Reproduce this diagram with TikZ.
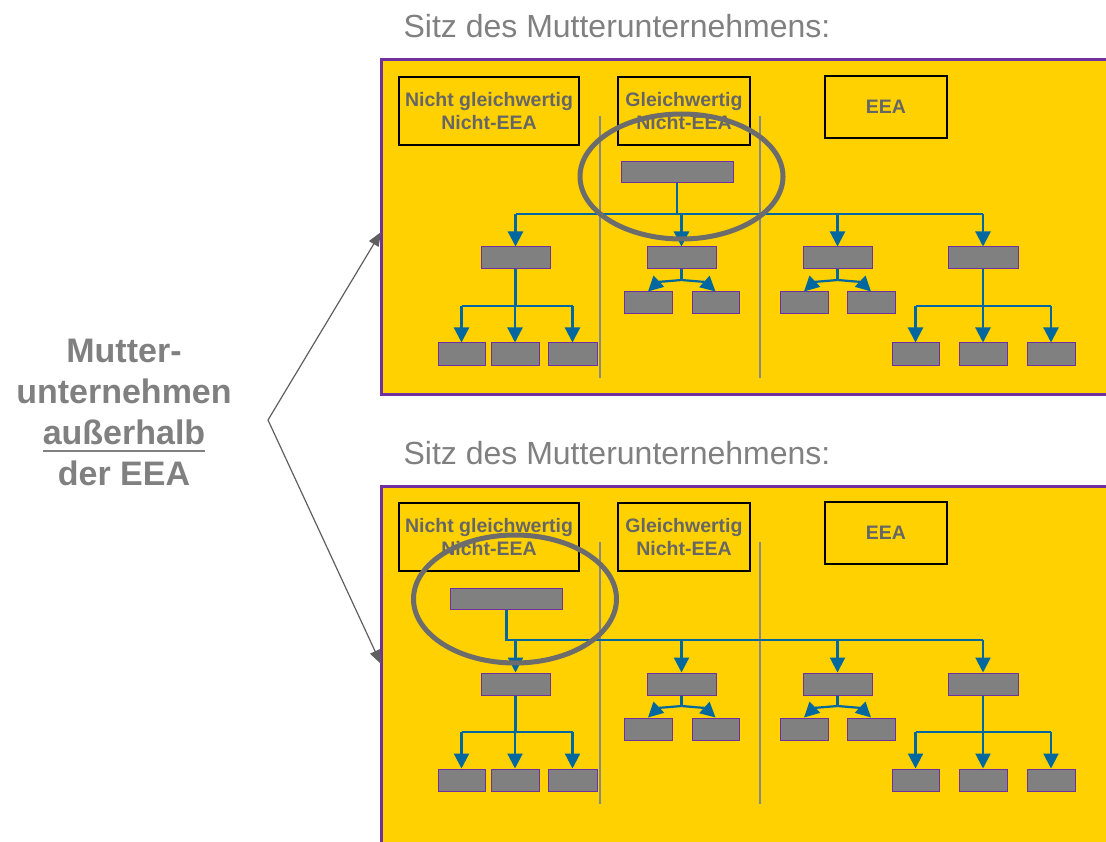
\documentclass[tikz,border=0pt]{standalone}
\usepackage{fontspec}
\setmainfont{Liberation Sans}
\usetikzlibrary{arrows.meta,calc}
\definecolor{gold}{RGB}{255,209,0}
\definecolor{purp}{RGB}{112,48,160}
\definecolor{boxgray}{RGB}{128,128,128}
\definecolor{txtgray}{RGB}{102,102,102}
\definecolor{lightgray}{RGB}{128,128,128}
\definecolor{linkblue}{RGB}{0,104,158}
\definecolor{ellgray}{RGB}{108,108,108}
\definecolor{divgray}{RGB}{136,136,136}
\definecolor{ptrgray}{RGB}{95,95,95}
\newcommand\ulword[1]{\setbox0\hbox{#1}\rlap{\rule[-8pt]{\wd0}{2.5pt}}\box0}
\tikzset{
 panel/.style={fill=gold, draw=purp, line width=3pt},
 hdr/.style={draw=black, line width=2pt, align=center, text=txtgray, font=\fontsize{19.5}{23}\selectfont\bfseries, inner sep=0pt},
 gbox/.style={draw=purp, fill=boxgray, line width=1pt, minimum height=22pt, minimum width=#1, inner sep=0pt},
 gbox/.default=48pt,
 link/.style={draw=linkblue, line width=2.2pt},
 arr/.style={link, -{Triangle[width=15pt,length=15pt]}},
 divider/.style={draw=divgray, line width=2.5pt},
 focus/.style={draw=ellgray, line width=5pt},
 ptr/.style={draw=ptrgray, line width=1.2pt, -{Triangle[width=11pt,length=14pt]}},
}
\begin{document}
\begin{tikzpicture}[x=1pt,y=-1pt]
\useasboundingbox (0,0) rectangle (1106,842);
\clip (0,0) rectangle (1106,842);
\foreach \p/\dy/\rx/\ex/\ery/\eyy/\pb in {t/0/677/681.5/62.5/176.5/394, b/426/506.5/515/64/173/460} {
\begin{scope}[shift={(0,\dy)}, name prefix=\p-]
 \node[font=\fontsize{32}{38}\selectfont, text=lightgray, anchor=base, inner sep=0pt] (sitz) at (617,38) {Sitz des Mutterunternehmens:};
 \path[panel] (381,60) rectangle (1120,\pb);
 \node[hdr, minimum width=180pt, minimum height=68pt] (h1) at (489,111) {Nicht gleichwertig\\Nicht-EEA};
 \node[hdr, minimum width=132pt, minimum height=68pt] (h2) at (684,111) {Gleichwertig\\Nicht-EEA};
 \node[hdr, minimum width=122pt, minimum height=62pt] (h3) at (886,107) {EEA};
 \draw[divider] (600,116) -- (600,378);
 \draw[divider] (760,116) -- (760,378);
 \node[gbox=112pt, minimum height=21pt] (R) at (\rx,172.5) {};
 \node[gbox=69pt] (A) at (515.5,258) {};
 \node[gbox=69pt] (B) at (681.5,258) {};
 \node[gbox=69pt] (C) at (837.5,258) {};
 \node[gbox=70pt] (D) at (983,258) {};
 \node[gbox=47pt] (A1) at (461.5,354) {};
 \node[gbox] (A2) at (515,354) {};
 \node[gbox=49pt] (A3) at (572.5,354) {};
 \node[gbox] (B1) at (648,303) {};
 \node[gbox=47pt] (B2) at (715.5,303) {};
 \node[gbox] (C1) at (804,303) {};
 \node[gbox] (C2) at (871,303) {};
 \node[gbox=47pt] (D1) at (915.5,354) {};
 \node[gbox] (D2) at (983,354) {};
 \node[gbox] (D3) at (1051,354) {};
 % main bus
 \coordinate (busL) at (515.5,214);
 \coordinate (busR) at (983,214);
 \draw[link] (R.south) -- (R.south |- busL) -- (busR);
 \draw[link] (busL) -- (busR);
 \foreach \n in {A,B,C,D} \draw[arr] (\n.north |- busL) -- (\n.north);
 % subtree A
 \coordinate (aj) at (515.5,306);
 \draw[link] (A.south) -- (aj);
 \draw[link] (A1.north |- aj) -- (A3.north |- aj);
 \foreach \n in {A1,A2,A3} \draw[arr] (\n.north |- aj) -- (\n.north);
 % subtree D
 \coordinate (dj) at (983,306);
 \draw[link] (D.south) -- (dj);
 \draw[link] (D1.north |- dj) -- (D3.north |- dj);
 \foreach \n in {D1,D2,D3} \draw[arr] (\n.north |- dj) -- (\n.north);
 % subtree B
 \coordinate (bj) at (681.5,280);
 \draw[link] (B.south) -- (bj);
 \draw[arr] (bj) .. controls (658,282) .. (B1.north);
 \draw[arr] (bj) .. controls (705,282) .. (B2.north);
 % subtree C
 \coordinate (cj) at (837.5,280);
 \draw[link] (C.south) -- (cj);
 \draw[arr] (cj) .. controls (814,282) .. (C1.north);
 \draw[arr] (cj) .. controls (861,282) .. (C2.north);
 % focus ellipse
 \draw[focus] (\ex,\eyy) ellipse [x radius=101.5pt, y radius={\ery*1pt}];
\end{scope}
}
\node[font=\fontsize{34}{41}\selectfont\bfseries, text=lightgray, align=center, inner sep=0pt] (mu) at (124,412) {Mutter-\\unternehmen\\\ulword{außerhalb}\\der EEA};
\coordinate (fork) at (268,420);
\coordinate (tipT) at (381,232);
\coordinate (tipB) at (381,664);
\draw[ptr] (fork) -- (tipT);
\draw[ptr] (fork) -- (tipB);
\end{tikzpicture}
\end{document}
